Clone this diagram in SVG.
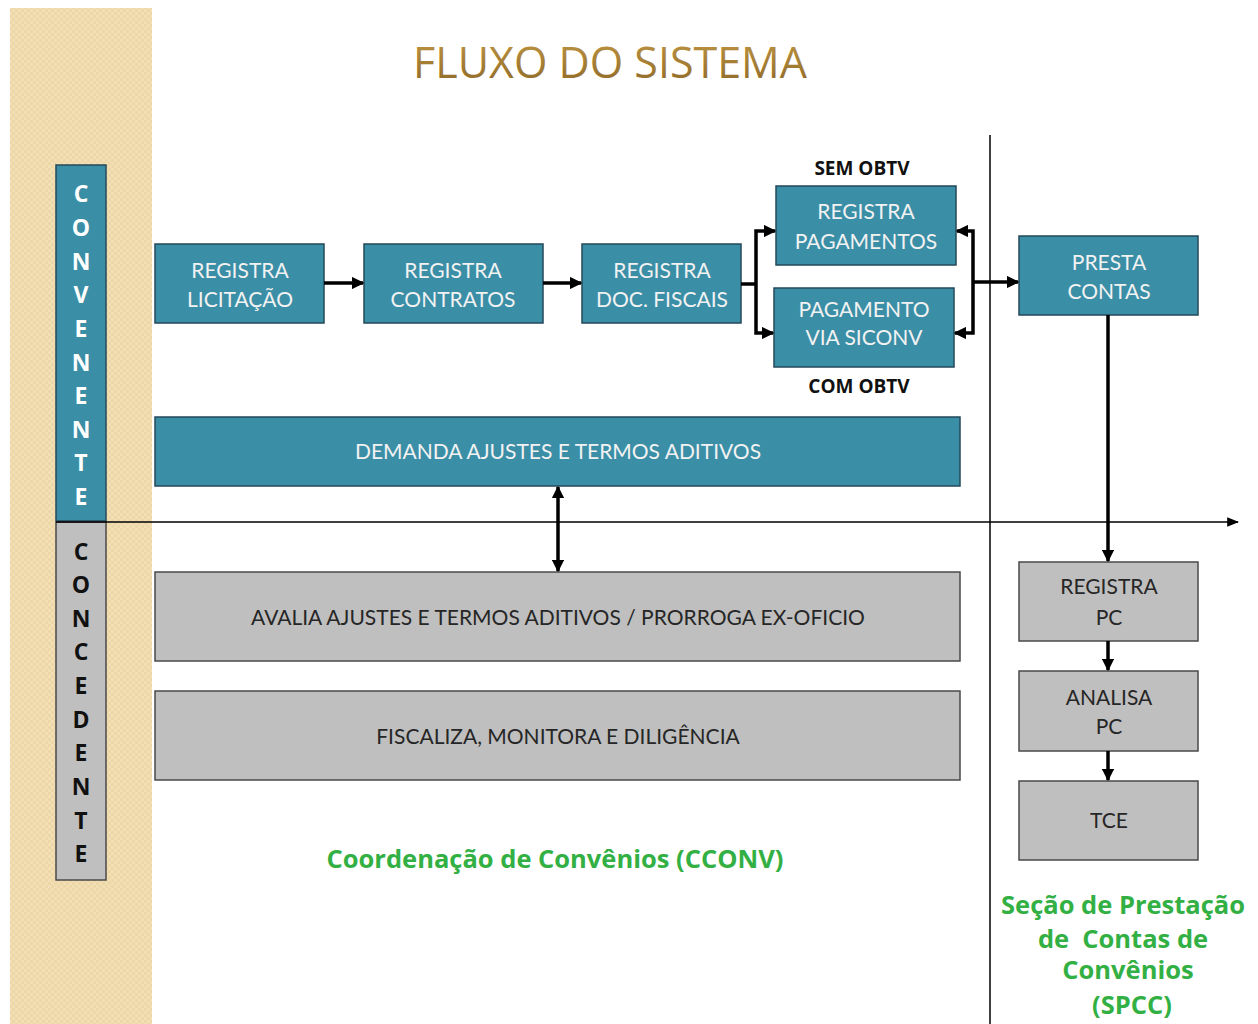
<svg xmlns="http://www.w3.org/2000/svg" width="1258" height="1024" viewBox="0 0 1258 1024">
<defs>
<pattern id="beige" width="6" height="6" patternUnits="userSpaceOnUse">
<rect width="6" height="6" fill="#f2dfb5"/>
<rect width="3" height="3" fill="#eed7a6"/>
<rect x="3" y="3" width="3" height="3" fill="#eed7a6"/>
</pattern>
<linearGradient id="gold" x1="0" y1="0" x2="0" y2="1">
<stop offset="0" stop-color="#c49a45"/>
<stop offset="1" stop-color="#8a6526"/>
</linearGradient>
<marker id="ah" viewBox="0 0 10 10" refX="9" refY="5" markerWidth="3.6" markerHeight="3.6" orient="auto-start-reverse">
<path d="M0,0 L10,5 L0,10 z" fill="#000"/>
</marker>
<marker id="ahs" viewBox="0 0 10 10" refX="9" refY="5" markerWidth="8" markerHeight="8" orient="auto">
<path d="M0,1 L10,5 L0,9 z" fill="#000"/>
</marker>
</defs>
<style>
.teal{fill:#3a8ea6;stroke:#24485a;stroke-width:1.5}
.gray{fill:#bfbfbf;stroke:#4a4a4a;stroke-width:1.5}
.tw{font-family:Lato,"Liberation Sans",sans-serif;font-size:21px;fill:#f2f2f2;text-anchor:middle}
.tk{font-family:Lato,"Liberation Sans",sans-serif;font-size:21px;fill:#262626;text-anchor:middle}
.lw{font-family:"Open Sans","Liberation Sans",sans-serif;font-weight:bold;font-size:23px;fill:#ffffff;text-anchor:middle}
.lk{font-family:"Open Sans","Liberation Sans",sans-serif;font-weight:bold;font-size:23px;fill:#111;text-anchor:middle}
.lab{font-family:"Open Sans","Liberation Sans",sans-serif;font-weight:bold;font-size:19px;fill:#111;text-anchor:middle}
.green{font-family:"Open Sans","Liberation Sans",sans-serif;font-weight:bold;font-size:25.5px;fill:#33b044;text-anchor:middle}
.c{fill:none;stroke:#000;stroke-width:3.5}
</style>
<rect x="0" y="0" width="1258" height="1024" fill="#ffffff"/>
<rect x="10" y="8" width="142" height="1016" fill="url(#beige)"/>
<text x="610" y="78" font-family="'Open Sans','Liberation Sans',sans-serif" font-size="43" fill="url(#gold)" text-anchor="middle">FLUXO DO SISTEMA</text>

<line x1="990" y1="135" x2="990" y2="1024" stroke="#000" stroke-width="1.5"/>

<g id="convenente">
<rect x="56" y="165" width="50" height="356" class="teal"/>
<text class="lw" x="81" y="202">C</text>
<text class="lw" x="81" y="236">O</text>
<text class="lw" x="81" y="270">N</text>
<text class="lw" x="81" y="303">V</text>
<text class="lw" x="81" y="337">E</text>
<text class="lw" x="81" y="371">N</text>
<text class="lw" x="81" y="404">E</text>
<text class="lw" x="81" y="438">N</text>
<text class="lw" x="81" y="471">T</text>
<text class="lw" x="81" y="505">E</text>
</g>
<g id="concedente">
<rect x="56" y="522" width="50" height="358" class="gray"/>
<text class="lk" x="81" y="560">C</text>
<text class="lk" x="81" y="593">O</text>
<text class="lk" x="81" y="627">N</text>
<text class="lk" x="81" y="660">C</text>
<text class="lk" x="81" y="694">E</text>
<text class="lk" x="81" y="728">D</text>
<text class="lk" x="81" y="761">E</text>
<text class="lk" x="81" y="795">N</text>
<text class="lk" x="81" y="829">T</text>
<text class="lk" x="81" y="862">E</text>
</g>

<g id="registra-licitacao">
<rect x="155" y="244" width="169" height="79" class="teal"/>
<text class="tw" x="240" y="278">REGISTRA</text>
<text class="tw" x="240" y="307">LICITAÇÃO</text>
</g>
<g id="registra-contratos">
<rect x="364" y="244" width="179" height="79" class="teal"/>
<text class="tw" x="453" y="278">REGISTRA</text>
<text class="tw" x="453" y="307">CONTRATOS</text>
</g>
<g id="registra-doc-fiscais">
<rect x="582" y="244" width="159" height="79" class="teal"/>
<text class="tw" x="662" y="278">REGISTRA</text>
<text class="tw" x="662" y="307">DOC. FISCAIS</text>
</g>
<g id="registra-pagamentos">
<rect x="776" y="186" width="180" height="79" class="teal"/>
<text class="tw" x="866" y="219">REGISTRA</text>
<text class="tw" x="866" y="249">PAGAMENTOS</text>
</g>
<g id="pagamento-siconv">
<rect x="774" y="288" width="180" height="79" class="teal"/>
<text class="tw" x="864" y="317">PAGAMENTO</text>
<text class="tw" x="864" y="345">VIA SICONV</text>
</g>
<text class="lab" x="862" y="175">SEM OBTV</text>
<text class="lab" x="859" y="393">COM OBTV</text>
<g id="presta-contas">
<rect x="1019" y="236" width="179" height="79" class="teal"/>
<text class="tw" x="1109" y="270">PRESTA</text>
<text class="tw" x="1109" y="299">CONTAS</text>
</g>
<g id="demanda">
<rect x="155" y="417" width="805" height="69" class="teal"/>
<text class="tw" x="558" y="459">DEMANDA AJUSTES E TERMOS ADITIVOS</text>
</g>
<g id="avalia">
<rect x="155" y="572" width="805" height="89" class="gray"/>
<text class="tk" x="558" y="625">AVALIA AJUSTES E TERMOS ADITIVOS / PRORROGA EX-OFICIO</text>
</g>
<g id="fiscaliza">
<rect x="155" y="691" width="805" height="89" class="gray"/>
<text class="tk" x="558" y="744">FISCALIZA, MONITORA E DILIGÊNCIA</text>
</g>
<g id="registra-pc">
<rect x="1019" y="562" width="179" height="79" class="gray"/>
<text class="tk" x="1109" y="594">REGISTRA</text>
<text class="tk" x="1109" y="625">PC</text>
</g>
<g id="analisa-pc">
<rect x="1019" y="671" width="179" height="80" class="gray"/>
<text class="tk" x="1109" y="705">ANALISA</text>
<text class="tk" x="1109" y="734">PC</text>
</g>
<g id="tce">
<rect x="1019" y="781" width="179" height="79" class="gray"/>
<text class="tk" x="1109" y="828">TCE</text>
</g>

<g id="connectors">
<line x1="56" y1="522" x2="1238" y2="522" stroke="#000" stroke-width="1.5" marker-end="url(#ahs)"/>
<line class="c" x1="324" y1="283" x2="363" y2="283" marker-end="url(#ah)"/>
<line class="c" x1="543" y1="283" x2="581" y2="283" marker-end="url(#ah)"/>
<polyline class="c" points="741,284 756,284"/>
<polyline class="c" points="775,231 756,231 756,333 773,333" marker-start="url(#ah)" marker-end="url(#ah)"/>
<polyline class="c" points="957,231 973,231 973,333 955,333" marker-start="url(#ah)" marker-end="url(#ah)"/>
<line class="c" x1="973" y1="282" x2="1018" y2="282" marker-end="url(#ah)"/>
<line class="c" x1="1108" y1="315" x2="1108" y2="561" marker-end="url(#ah)"/>
<line class="c" x1="1108" y1="641" x2="1108" y2="670" marker-end="url(#ah)"/>
<line class="c" x1="1108" y1="751" x2="1108" y2="780" marker-end="url(#ah)"/>
<line class="c" x1="558" y1="487" x2="558" y2="571" marker-start="url(#ah)" marker-end="url(#ah)"/>
</g>

<text class="green" x="555" y="868">Coordenação de Convênios (CCONV)</text>
<text class="green" x="1123" y="914">Seção de Prestação</text>
<text class="green" x="1123" y="948" style="white-space:pre">de  Contas de</text>
<text class="green" x="1128" y="979">Convênios</text>
<text class="green" x="1132" y="1014">(SPCC)</text>
</svg>
